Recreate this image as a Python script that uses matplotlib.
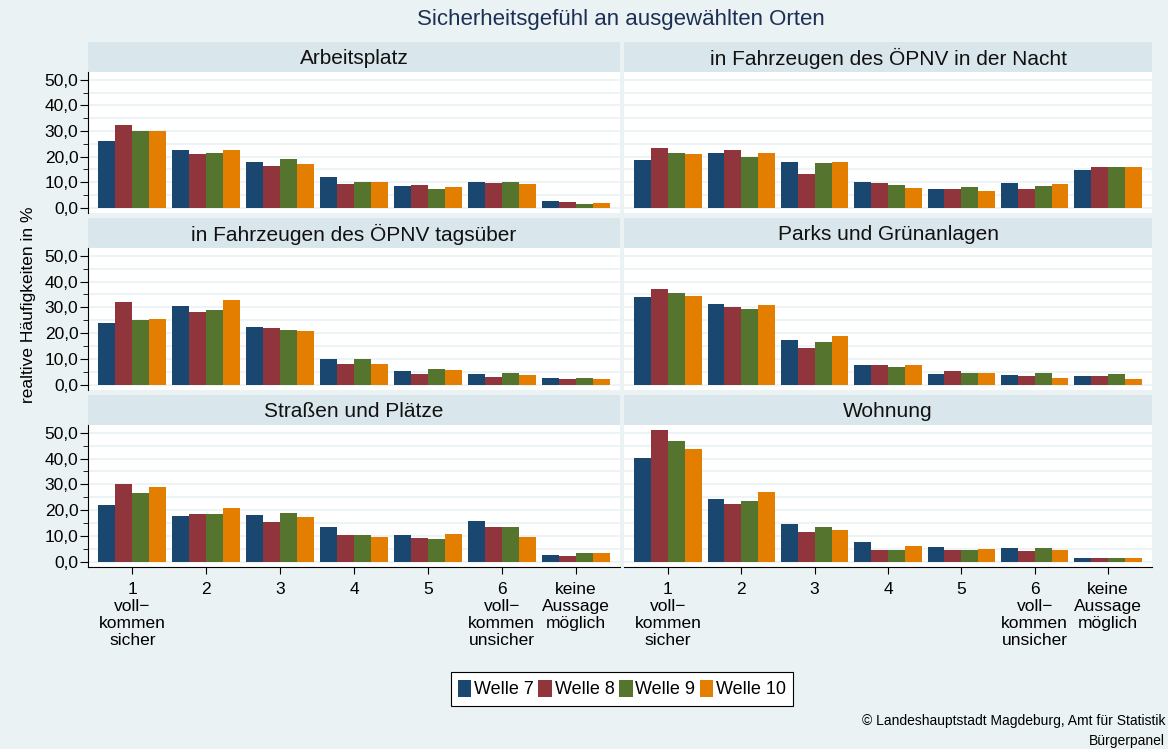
import matplotlib
matplotlib.use("Agg")
import matplotlib.pyplot as plt
from matplotlib.patches import Patch
import numpy as np

plt.rcParams['font.family'] = ['Liberation Sans', 'DejaVu Sans']

# data (relative frequencies in %)
categories = ["1\nvoll\u2212\nkommen\nsicher", "2", "3", "4", "5",
              "6\nvoll\u2212\nkommen\nunsicher", "keine\nAussage\nmöglich"]
waves = ["Welle 7", "Welle 8", "Welle 9", "Welle 10"]
colors = ["#1a476f", "#90353b", "#55752f", "#e37e00"]

arbeitsplatz = [[26.2, 22.6, 17.9, 12.0, 8.5, 10.1, 2.6],
                [32.4, 21.0, 16.3, 9.3, 8.9, 9.7, 2.2],
                [30.0, 21.4, 19.1, 10.1, 7.3, 10.1, 1.4],
                [30.0, 22.6, 17.1, 10.1, 8.1, 9.3, 1.8]]
oepnv_nacht = [[18.7, 21.4, 17.9, 10.1, 7.3, 9.7, 14.8],
               [23.4, 22.6, 13.2, 9.7, 7.3, 7.3, 15.9],
               [21.4, 19.8, 17.5, 8.9, 8.1, 8.5, 15.9],
               [21.0, 21.4, 17.9, 7.7, 6.5, 9.3, 15.9]]
oepnv_tag = [[24.0, 30.6, 22.4, 10.2, 5.5, 4.3, 2.7],
             [32.2, 28.3, 22.0, 7.9, 4.3, 3.1, 2.4],
             [25.1, 29.1, 21.2, 10.2, 6.3, 4.7, 2.7],
             [25.5, 33.0, 20.8, 8.2, 5.9, 3.9, 2.4]]
parks = [[33.9, 31.2, 17.4, 7.6, 4.1, 3.7, 3.3],
         [37.0, 30.0, 14.3, 7.6, 5.2, 3.3, 3.3],
         [35.5, 29.2, 16.6, 6.8, 4.5, 4.5, 4.1],
         [34.3, 30.8, 19.0, 7.6, 4.5, 2.5, 2.1]]
strassen = [[21.9, 17.7, 18.0, 13.3, 10.5, 16.0, 2.6],
            [30.2, 18.4, 15.6, 10.5, 9.3, 13.6, 2.2],
            [26.6, 18.4, 18.8, 10.5, 8.9, 13.6, 3.4],
            [29.0, 20.7, 17.2, 9.7, 10.9, 9.7, 3.4]]
wohnung = [[40.4, 24.3, 14.8, 7.7, 5.8, 5.4, 1.4],
           [51.0, 22.3, 11.7, 4.6, 4.6, 4.2, 1.4],
           [46.7, 23.5, 13.6, 4.6, 4.6, 5.4, 1.4],
           [43.6, 27.0, 12.5, 6.2, 5.0, 4.6, 1.4]]

panels = [("Arbeitsplatz", arbeitsplatz),
          ("in Fahrzeugen des ÖPNV in der Nacht", oepnv_nacht),
          ("in Fahrzeugen des ÖPNV tagsüber", oepnv_tag),
          ("Parks und Grünanlagen", parks),
          ("Straßen und Plätze", strassen),
          ("Wohnung", wohnung)]

W, H = 1168, 749
bg = "#eaf2f3"
strip_col = "#d9e6eb"
fig = plt.figure(figsize=(W / 100, H / 100), dpi=100, facecolor=bg)


def px(x0, y0, x1, y1):
    return [x0 / W, 1 - y1 / H, (x1 - x0) / W, (y1 - y0) / H]


cols = [(88, 620), (624, 1152)]
rows = [(42, 72, 213), (218, 248, 390), (395, 425, 567)]

x = np.arange(len(categories))
bw = 0.23
for i, (name, data) in enumerate(panels):
    r, c = divmod(i, 2)
    x0, x1 = cols[c]
    s0, s1, p1 = rows[r]
    sax = fig.add_axes(px(x0, s0, x1, s1))
    sax.set_facecolor(strip_col)
    sax.set_xticks([]); sax.set_yticks([])
    for sp in sax.spines.values():
        sp.set_visible(False)
    sax.text(0.5, 0.45, name, ha="center", va="center", fontsize=15, color="#111111")

    ax = fig.add_axes(px(x0, s1, x1, p1))
    ax.set_facecolor("white")
    for k in range(4):
        ax.bar(x + (k - 1.5) * bw, data[k], width=bw, color=colors[k], zorder=3)
    ax.set_xlim(-0.6, 6.6)
    ax.set_ylim(-2, 53)
    for yv in np.arange(0, 55, 5):
        ax.axhline(yv, color=bg, lw=1.2, zorder=1)
    for sp in ["top", "right"]:
        ax.spines[sp].set_visible(False)
    if c == 0:
        ax.set_yticks(np.arange(0, 51, 10))
        ax.set_yticks(np.arange(5, 51, 10), minor=True)
        ax.set_yticklabels([f"{v:.1f}".replace(".", ",") for v in np.arange(0, 51, 10)],
                           fontsize=12.5)
        ax.tick_params(axis="y", which="major", length=6, color="black", pad=1)
        ax.tick_params(axis="y", which="minor", length=3.5, color="black")
        ax.spines["left"].set_color("black")
    else:
        ax.set_yticks([])
        ax.spines["left"].set_visible(False)
    if r == 2:
        ax.set_xticks(x)
        ax.set_xticklabels(categories, fontsize=12.5, linespacing=1.15)
        ax.tick_params(axis="x", length=5, color="black", pad=6)
        ax.spines["bottom"].set_color("black")
    else:
        ax.set_xticks([])
        ax.spines["bottom"].set_visible(False)

fig.text(621 / W, 1 - 19 / H, "Sicherheitsgefühl an ausgewählten Orten",
         ha="center", va="center", fontsize=16, color="#1c3055")
fig.text(29 / W, 1 - 305 / H, "realtive Häufigkeiten in %", rotation=90,
         ha="center", va="center", fontsize=12.5)

handles = [Patch(facecolor=col, edgecolor="none") for col in colors]
leg = fig.legend(handles, waves, loc="center", bbox_to_anchor=(622 / W, 1 - 689 / H),
                 ncol=4, fontsize=13, handlelength=0.75, handleheight=1.1,
                 handletextpad=0.15, columnspacing=0.25, borderpad=0.4,
                 fancybox=False, framealpha=1, edgecolor="black")
leg.get_frame().set_linewidth(0.8)

fig.text(1165 / W, 1 - 721 / H, "© Landeshauptstadt Magdeburg, Amt für Statistik",
         ha="right", va="center", fontsize=10)
fig.text(1165 / W, 1 - 741 / H, "Bürgerpanel", ha="right", va="center", fontsize=10)

fig.savefig("out.png", dpi=100, facecolor=bg)
